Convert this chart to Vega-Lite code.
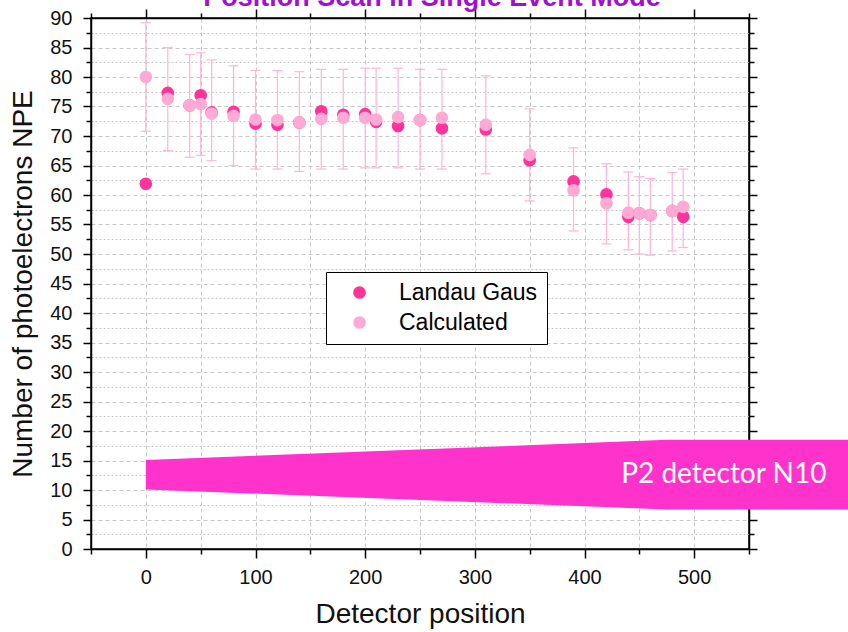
{
  "$schema": "https://vega.github.io/schema/vega-lite/v6.json",
  "width": 658,
  "height": 531,
  "autosize": {"type": "none"},
  "padding": {"left": 91, "top": 18, "right": 99, "bottom": 83},
  "background": "white",
  "config": {
    "view": {"stroke": "#000", "strokeWidth": 1.5},
    "axis": {
      "domainColor": "#000",
      "domainWidth": 1.5,
      "tickColor": "#000",
      "tickWidth": 1.5,
      "labelFont": "Liberation Sans",
      "labelFontSize": 20,
      "labelColor": "#111",
      "titleFont": "Liberation Sans",
      "titleFontSize": 28,
      "titleFontWeight": "normal",
      "titleColor": "#111",
      "gridColor": "#c8c8c8",
      "gridWidth": 1
    }
  },
  "datasets": {
    "obs": [
      {"pos": 0, "Landau Gaus": 61.9, "Calculated": 80.0, "lo": 70.8, "hi": 89.2},
      {"pos": 20, "Landau Gaus": 77.3, "Calculated": 76.3, "lo": 67.5, "hi": 85.0},
      {"pos": 40, "Landau Gaus": 75.2, "Calculated": 75.2, "lo": 66.4, "hi": 83.8},
      {"pos": 50, "Landau Gaus": 76.9, "Calculated": 75.4, "lo": 66.7, "hi": 84.1},
      {"pos": 60, "Landau Gaus": 74.0, "Calculated": 73.8, "lo": 65.8, "hi": 82.9},
      {"pos": 80, "Landau Gaus": 74.1, "Calculated": 73.4, "lo": 65.0, "hi": 81.9},
      {"pos": 100, "Landau Gaus": 72.1, "Calculated": 72.8, "lo": 64.4, "hi": 81.1},
      {"pos": 120, "Landau Gaus": 71.9, "Calculated": 72.7, "lo": 64.4, "hi": 81.1},
      {"pos": 140, "Landau Gaus": 72.3, "Calculated": 72.3, "lo": 64.0, "hi": 80.9},
      {"pos": 160, "Landau Gaus": 74.2, "Calculated": 72.9, "lo": 64.4, "hi": 81.3},
      {"pos": 180, "Landau Gaus": 73.6, "Calculated": 73.1, "lo": 64.4, "hi": 81.3},
      {"pos": 200, "Landau Gaus": 73.7, "Calculated": 73.1, "lo": 64.6, "hi": 81.5},
      {"pos": 210, "Landau Gaus": 72.4, "Calculated": 72.8, "lo": 64.6, "hi": 81.5},
      {"pos": 230, "Landau Gaus": 71.7, "Calculated": 73.2, "lo": 64.6, "hi": 81.5},
      {"pos": 250, "Landau Gaus": 72.7, "Calculated": 72.7, "lo": 64.4, "hi": 81.3},
      {"pos": 270, "Landau Gaus": 71.3, "Calculated": 73.1, "lo": 64.4, "hi": 81.3},
      {"pos": 310, "Landau Gaus": 71.1, "Calculated": 71.9, "lo": 63.6, "hi": 80.2},
      {"pos": 350, "Landau Gaus": 65.9, "Calculated": 66.8, "lo": 59.0, "hi": 74.6},
      {"pos": 390, "Landau Gaus": 62.3, "Calculated": 60.8, "lo": 53.9, "hi": 68.0},
      {"pos": 420, "Landau Gaus": 60.1, "Calculated": 58.6, "lo": 51.7, "hi": 65.3},
      {"pos": 440, "Landau Gaus": 56.3, "Calculated": 57.0, "lo": 50.7, "hi": 63.9},
      {"pos": 450, "Landau Gaus": 56.9, "Calculated": 56.9, "lo": 50.0, "hi": 63.1},
      {"pos": 460, "Landau Gaus": 56.6, "Calculated": 56.6, "lo": 49.8, "hi": 62.8},
      {"pos": 480, "Landau Gaus": 57.3, "Calculated": 57.3, "lo": 50.5, "hi": 63.8},
      {"pos": 490, "Landau Gaus": 56.3, "Calculated": 58.0, "lo": 51.1, "hi": 64.4}
    ],
    "shape": [
      {"pos": 0, "top": 15.1, "bottom": 10.1},
      {"pos": 475, "top": 18.5, "bottom": 6.7},
      {"pos": 650, "top": 18.5, "bottom": 6.7}
    ],
    "label": [
      {"pos": 527, "npe": 12.5, "text": "P2 detector N10"}
    ],
    "heading": [
      {"pos": 261, "npe": 92.1, "text": "Position Scan in Single Event Mode"}
    ]
  },
  "layer": [
    {
      "data": {"name": "obs"},
      "mark": {"type": "rule", "color": "#ffb8dc", "strokeWidth": 1.3},
      "encoding": {
        "x": {
          "field": "pos", "type": "quantitative",
          "scale": {"domain": [-50, 550], "nice": false, "zero": false},
          "axis": {
            "orient": "bottom",
            "title": "Detector position",
            "titlePadding": 13,
            "values": [-50, 0, 50, 100, 150, 200, 250, 300, 350, 400, 450, 500, 550],
            "labelExpr": "datum.value % 100 === 0 && datum.value >= 0 && datum.value <= 500 ? datum.label : ''",
            "tickSize": {"condition": {"test": "datum.value % 100 === 0", "value": 9}, "value": 5},
            "labelPadding": 9,
            "grid": true,
            "gridDash": [4, 3]
          }
        },
        "y": {
          "field": "lo", "type": "quantitative",
          "scale": {"domain": [0, 90], "nice": false, "zero": false},
          "axis": {
            "orient": "left",
            "title": "Number of photoelectrons NPE",
            "titlePadding": 12,
            "values": [0, 2.5, 5, 7.5, 10, 12.5, 15, 17.5, 20, 22.5, 25, 27.5, 30, 32.5, 35, 37.5, 40, 42.5, 45, 47.5, 50, 52.5, 55, 57.5, 60, 62.5, 65, 67.5, 70, 72.5, 75, 77.5, 80, 82.5, 85, 87.5, 90],
            "labelExpr": "datum.value % 5 === 0 ? datum.label : ''",
            "tickSize": {"condition": {"test": "datum.value % 5 === 0", "value": 8}, "value": 5},
            "labelPadding": 11,
            "grid": true,
            "gridDash": {"condition": {"test": "datum.value % 5 === 0", "value": [4, 3]}, "value": [2, 2]}
          }
        },
        "y2": {"field": "hi"}
      }
    },
    {
      "data": {"name": "obs"},
      "transform": [{"fold": ["lo", "hi"], "as": ["k", "v"]}],
      "mark": {"type": "tick", "orient": "horizontal", "color": "#ffb8dc", "size": 10, "thickness": 1.3, "opacity": 1},
      "encoding": {
        "x": {
          "field": "pos", "type": "quantitative",
          "scale": {"domain": [-50, 550], "nice": false, "zero": false},
          "axis": {
            "orient": "top",
            "title": null,
            "labels": false,
            "grid": false,
            "values": [-50, 0, 50, 100, 150, 200, 250, 300, 350, 400, 450, 500, 550],
            "tickSize": {"condition": {"test": "datum.value % 100 === 0", "value": 9}, "value": 5}
          }
        },
        "y": {
          "field": "v", "type": "quantitative",
          "scale": {"domain": [0, 90], "nice": false, "zero": false},
          "axis": {
            "orient": "right",
            "title": null,
            "labels": false,
            "grid": false,
            "values": [0, 2.5, 5, 7.5, 10, 12.5, 15, 17.5, 20, 22.5, 25, 27.5, 30, 32.5, 35, 37.5, 40, 42.5, 45, 47.5, 50, 52.5, 55, 57.5, 60, 62.5, 65, 67.5, 70, 72.5, 75, 77.5, 80, 82.5, 85, 87.5, 90],
            "tickSize": {"condition": {"test": "datum.value % 5 === 0", "value": 8}, "value": 5}
          }
        }
      }
    },
    {
      "data": {"name": "obs"},
      "transform": [{"fold": ["Landau Gaus", "Calculated"], "as": ["series", "npe"]}],
      "mark": {"type": "circle", "size": 160, "opacity": 1},
      "encoding": {
        "x": {"field": "pos", "type": "quantitative", "scale": {"domain": [-50, 550], "nice": false, "zero": false}, "axis": null},
        "y": {"field": "npe", "type": "quantitative", "scale": {"domain": [0, 90], "nice": false, "zero": false}, "axis": null},
        "color": {
          "field": "series", "type": "nominal",
          "scale": {"domain": ["Landau Gaus", "Calculated"], "range": ["#ff3399", "#ffaad4"]},
          "legend": {
            "title": null,
            "orient": "none",
            "legendX": 235,
            "legendY": 254,
            "strokeColor": "#000",
            "fillColor": "#fff",
            "padding": 9,
            "symbolType": "circle",
            "symbolSize": 160,
            "symbolOpacity": 1,
            "symbolStrokeWidth": 0,
            "symbolOffset": 13,
            "labelOffset": 28,
            "labelFont": "Liberation Sans",
            "labelFontSize": 23,
            "labelColor": "#000",
            "rowPadding": 6
          }
        }
      }
    },
    {
      "data": {"name": "shape"},
      "mark": {"type": "area", "color": "#ff33cc", "opacity": 1, "clip": false},
      "encoding": {
        "x": {"field": "pos", "type": "quantitative", "scale": {"domain": [-50, 550], "nice": false, "zero": false}, "axis": null},
        "y": {"field": "top", "type": "quantitative", "scale": {"domain": [0, 90], "nice": false, "zero": false}, "axis": null},
        "y2": {"field": "bottom"}
      }
    },
    {
      "data": {"name": "label"},
      "mark": {"type": "text", "color": "#ffffff", "font": "Lato", "fontSize": 28, "align": "center", "baseline": "middle"},
      "encoding": {
        "x": {"field": "pos", "type": "quantitative", "scale": {"domain": [-50, 550], "nice": false, "zero": false}, "axis": null},
        "y": {"field": "npe", "type": "quantitative", "scale": {"domain": [0, 90], "nice": false, "zero": false}, "axis": null},
        "text": {"field": "text"}
      }
    },
    {
      "data": {"name": "heading"},
      "mark": {"type": "text", "color": "#a010d0", "font": "Liberation Sans", "fontSize": 27, "fontWeight": "bold", "align": "center", "baseline": "alphabetic", "clip": false},
      "encoding": {
        "x": {"field": "pos", "type": "quantitative", "scale": {"domain": [-50, 550], "nice": false, "zero": false}, "axis": null},
        "y": {"field": "npe", "type": "quantitative", "scale": {"domain": [0, 90], "nice": false, "zero": false}, "axis": null},
        "text": {"field": "text"}
      }
    }
  ]
}
